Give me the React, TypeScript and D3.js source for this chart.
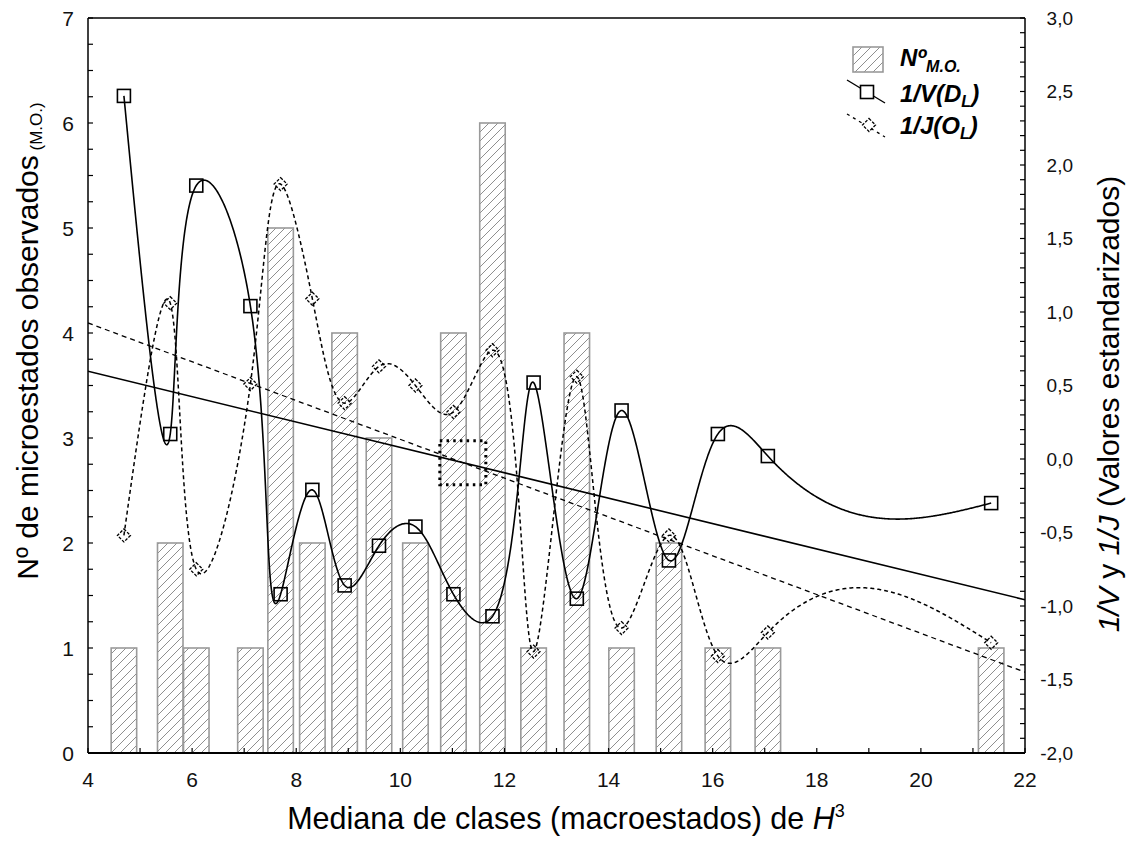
import React from 'react';
import * as d3 from 'd3';

// Class medians (macrostates) of H^3
const classMedians = [4.69, 5.58, 6.08, 7.12, 7.7, 8.31, 8.93, 9.59, 10.29, 11.02, 11.77, 12.56, 13.39, 14.25, 15.16, 16.1, 17.06, 21.35];
// Number of observed microstates per class
const microCounts = [1, 2, 1, 1, 5, 2, 4, 3, 2, 4, 6, 1, 4, 1, 2, 1, 1, 1];
// Standardized 1/V (D_L)
const invV = [2.47, 0.17, 1.86, 1.04, -0.92, -0.21, -0.86, -0.59, -0.46, -0.92, -1.07, 0.52, -0.95, 0.33, -0.69, 0.17, 0.02, -0.3];
// Standardized 1/J (O_L)
const invJ = [-0.52, 1.06, -0.75, 0.51, 1.87, 1.09, 0.38, 0.63, 0.5, 0.32, 0.74, -1.31, 0.56, -1.15, -0.52, -1.34, -1.18, -1.25];

const xTickValues = [4, 6, 8, 10, 12, 14, 16, 18, 20, 22];
const leftTickValues = [0, 1, 2, 3, 4, 5, 6, 7];
const rightTickValues = [-2, -1.5, -1, -0.5, 0, 0.5, 1, 1.5, 2, 2.5, 3];

const FONT = '"Liberation Sans", Arial, Helvetica, sans-serif';

// Natural cubic spline through (ts, vs) with arbitrary increasing knots
function naturalSpline(ts: number[], vs: number[]) {
  const n = ts.length;
  const h: number[] = [];
  for (let i = 0; i < n - 1; i++) h[i] = ts[i + 1] - ts[i];
  const alpha: number[] = new Array(n).fill(0);
  for (let i = 1; i < n - 1; i++) {
    alpha[i] = (3 / h[i]) * (vs[i + 1] - vs[i]) - (3 / h[i - 1]) * (vs[i] - vs[i - 1]);
  }
  const l = new Array(n).fill(0);
  const mu = new Array(n).fill(0);
  const z = new Array(n).fill(0);
  l[0] = 1;
  for (let i = 1; i < n - 1; i++) {
    l[i] = 2 * (ts[i + 1] - ts[i - 1]) - h[i - 1] * mu[i - 1];
    mu[i] = h[i] / l[i];
    z[i] = (alpha[i] - h[i - 1] * z[i - 1]) / l[i];
  }
  const c = new Array(n).fill(0);
  const b = new Array(n).fill(0);
  const d = new Array(n).fill(0);
  for (let j = n - 2; j >= 0; j--) {
    c[j] = z[j] - mu[j] * c[j + 1];
    b[j] = (vs[j + 1] - vs[j]) / h[j] - (h[j] * (c[j + 1] + 2 * c[j])) / 3;
    d[j] = (c[j + 1] - c[j]) / (3 * h[j]);
  }
  return (t: number) => {
    let j = 0;
    while (j < n - 2 && t > ts[j + 1]) j++;
    const dt = t - ts[j];
    return vs[j] + b[j] * dt + c[j] * dt * dt + d[j] * dt * dt * dt;
  };
}

// Parametric natural spline through data points, chord-length knots
function parametricSpline(xs: number[], ys: number[], steps = 1500): [number, number][] {
  const ts = [0];
  for (let i = 1; i < xs.length; i++) {
    ts.push(ts[i - 1] + Math.hypot(xs[i] - xs[i - 1], ys[i] - ys[i - 1]));
  }
  const fx = naturalSpline(ts, xs);
  const fy = naturalSpline(ts, ys);
  const total = ts[ts.length - 1];
  const out: [number, number][] = [];
  for (let i = 0; i <= steps; i++) {
    const t = (total * i) / steps;
    out.push([fx(t), fy(t)]);
  }
  return out;
}

// Ordinary least squares fit
function linearFit(xs: number[], ys: number[]) {
  const mx = d3.mean(xs) as number;
  const my = d3.mean(ys) as number;
  let sxy = 0;
  let sxx = 0;
  xs.forEach((v, i) => {
    sxy += (v - mx) * (ys[i] - my);
    sxx += (v - mx) * (v - mx);
  });
  const slope = sxy / sxx;
  return { slope, intercept: my - slope * mx };
}

const fmtRight = (v: number) => d3.format('.1f')(v).replace('.', ',').replace('−', '-');

export default function App() {
  const W = 1130;
  const H = 844;
  const left = 88;
  const right = 1025;
  const top = 18;
  const bottom = 753;

  const x = d3.scaleLinear().domain([4, 22]).range([left, right]);
  const yL = d3.scaleLinear().domain([0, 7]).range([bottom, top]);
  const yR = d3.scaleLinear().domain([-2, 3]).range([bottom, top]);

  const barHalf = 0.245;

  const line = d3
    .line<[number, number]>()
    .x((d) => x(d[0]))
    .y((d) => yR(d[1]));

  const vCurve = line(parametricSpline(classMedians, invV)) as string;
  const jCurve = line(parametricSpline(classMedians, invJ)) as string;

  const fitV = linearFit(classMedians, invV);
  const fitJ = linearFit(classMedians, invJ);
  const [d0, d1] = x.domain();
  const fitVPath = line([
    [d0, fitV.intercept + fitV.slope * d0],
    [d1, fitV.intercept + fitV.slope * d1],
  ]) as string;
  const fitJPath = line([
    [d0, fitJ.intercept + fitJ.slope * d0],
    [d1, fitJ.intercept + fitJ.slope * d1],
  ]) as string;

  // crossing point of the two fitted lines
  const xCross = (fitJ.intercept - fitV.intercept) / (fitV.slope - fitJ.slope);
  const yCross = fitV.intercept + fitV.slope * xCross;

  const leftMinor = d3.range(0, 7.001, 0.25);
  const rightMinor = d3.range(-2, 3.001, 0.1);
  const bottomMinor = d3.range(4, 22.001, 1);

  const squareHalf = 6.5;
  const diamond = (r: number) => `M0,${-r}L${r},0L0,${r}L${-r},0Z`;

  return (
    <svg
      width={W}
      height={H}
      viewBox={`0 0 ${W} ${H}`}
      style={{ position: 'absolute', left: 0, top: 0, background: '#fff' }}
      fontFamily={FONT}
    >
      <defs>
        <pattern id="hatch" patternUnits="userSpaceOnUse" width="9" height="9">
          <path d="M-1,10 L10,-1 M-1,1 L1,-1 M8,10 L10,8" stroke="#8f8f8f" strokeWidth="1" />
        </pattern>
        <clipPath id="plotClip">
          <rect x={left} y={top} width={right - left} height={bottom - top} />
        </clipPath>
      </defs>

      <rect x={0} y={0} width={W} height={H} fill="#fff" />

      {/* bars */}
      <g>
        {classMedians.map((c, i) => (
          <rect
            key={i}
            x={x(c - barHalf)}
            y={yL(microCounts[i])}
            width={x(c + barHalf) - x(c - barHalf)}
            height={yL(0) - yL(microCounts[i])}
            fill="url(#hatch)"
            stroke="#9a9a9a"
            strokeWidth={1.6}
          />
        ))}
      </g>

      <g clipPath="url(#plotClip)" fill="none" stroke="#000">
        {/* fitted lines */}
        <path d={fitVPath} strokeWidth={1.6} />
        <path d={fitJPath} strokeWidth={1.3} strokeDasharray="5,4" />
        {/* smoothed curves */}
        <path d={vCurve} strokeWidth={1.6} />
        <path d={jCurve} strokeWidth={1.5} strokeDasharray="4,3" />
      </g>

      {/* crossing marker */}
      <rect
        x={x(xCross) - 23}
        y={yR(yCross) - 22}
        width={46}
        height={44}
        fill="none"
        stroke="#000"
        strokeWidth={3}
        strokeDasharray="2.5,4.2"
      />

      {/* markers */}
      <g fill="none" stroke="#000">
        {classMedians.map((c, i) => (
          <rect
            key={'s' + i}
            x={x(c) - squareHalf}
            y={yR(invV[i]) - squareHalf}
            width={squareHalf * 2}
            height={squareHalf * 2}
            strokeWidth={1.6}
          />
        ))}
        {classMedians.map((c, i) => (
          <path
            key={'d' + i}
            d={diamond(6.5)}
            transform={`translate(${x(c)},${yR(invJ[i])})`}
            strokeWidth={1.3}
            strokeDasharray="3,1.5"
          />
        ))}
      </g>

      {/* frame */}
      <g stroke="#000" fill="none">
        <line x1={left} y1={top} x2={right} y2={top} strokeWidth={1.5} />
        <line x1={left} y1={top} x2={left} y2={bottom} strokeWidth={1.5} />
        <line x1={right} y1={top} x2={right} y2={bottom} strokeWidth={1.5} />
        <line x1={left} y1={bottom} x2={right} y2={bottom} strokeWidth={2} />
        {leftMinor.map((v, i) => (
          <line key={'lm' + i} x1={left} x2={left + 5} y1={yL(v)} y2={yL(v)} strokeWidth={1.2} />
        ))}
        {rightMinor.map((v, i) => (
          <line key={'rm' + i} x1={right - 5} x2={right} y1={yR(v)} y2={yR(v)} strokeWidth={1.2} />
        ))}
        {bottomMinor.map((v, i) => (
          <line key={'bm' + i} x1={x(v)} x2={x(v)} y1={bottom} y2={bottom - 5} strokeWidth={1.2} />
        ))}
      </g>

      {/* tick labels */}
      <g fill="#111" fontSize={21}>
        {leftTickValues.map((v) => (
          <text key={'lt' + v} x={74} y={yL(v)} dy="0.36em" textAnchor="end">
            {v}
          </text>
        ))}
        {xTickValues.map((v) => (
          <text key={'bt' + v} x={x(v)} y={787} textAnchor="middle">
            {v}
          </text>
        ))}
      </g>
      <g fill="#111" fontSize={19}>
        {rightTickValues.map((v) => (
          <text key={'rt' + v} x={1073} y={yR(v)} dy="0.36em" textAnchor="end">
            {fmtRight(v)}
          </text>
        ))}
      </g>

      {/* axis titles */}
      <text x={566} y={829} textAnchor="middle" fontSize={30.5} fill="#000">
        Mediana de clases (macroestados) de <tspan fontStyle="italic">H</tspan>
        <tspan fontSize={18} dy={-12}>3</tspan>
      </text>
      <text transform={`translate(38,341) rotate(-90)`} textAnchor="middle" fontSize={30} fill="#000">
        Nº de microestados observados
        <tspan fontSize={17} dy={4}> (M.O.)</tspan>
      </text>
      <text transform={`translate(1119,404) rotate(-90)`} textAnchor="middle" fontSize={30} fill="#000">
        <tspan fontStyle="italic">1/V</tspan> y <tspan fontStyle="italic">1/J</tspan> (Valores estandarizados)
      </text>

      {/* legend */}
      <g>
        <rect x={853} y={47} width={30} height={25} fill="url(#hatch)" stroke="#9a9a9a" strokeWidth={1.6} />
        <text x={900} y={66} fontSize={24} fontWeight="bold" fontStyle="italic" fill="#000">
          Nº<tspan fontSize={16} dy={6}>M.O.</tspan>
        </text>

        <line x1={847} y1={80} x2={885} y2={103} stroke="#000" strokeWidth={1.4} />
        <rect x={867 - 6.5} y={92 - 6.5} width={13} height={13} fill="#fff" stroke="#000" strokeWidth={1.6} />
        <text x={900} y={102} fontSize={24} fontWeight="bold" fontStyle="italic" fill="#000">
          1/V(D<tspan fontSize={16} dy={5}>L</tspan>
          <tspan dy={-5}>)</tspan>
        </text>

        <line x1={847} y1={114} x2={885} y2={137} stroke="#000" strokeWidth={1.3} strokeDasharray="3,4" />
        <path d={diamond(6.5)} transform="translate(869,125)" fill="#fff" stroke="#000" strokeWidth={1.3} strokeDasharray="3,1.5" />
        <text x={900} y={134} fontSize={24} fontWeight="bold" fontStyle="italic" fill="#000">
          1/J(O<tspan fontSize={16} dy={5}>L</tspan>
          <tspan dy={-5}>)</tspan>
        </text>
      </g>
    </svg>
  );
}
